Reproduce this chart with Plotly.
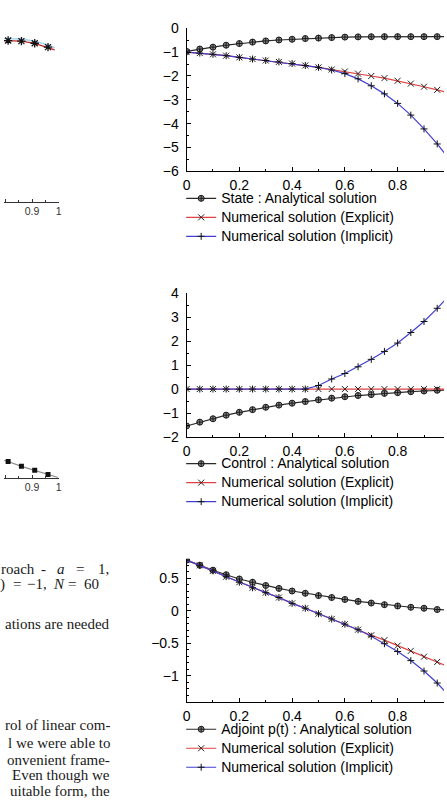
import plotly.graph_objects as go

# ---------------- data ----------------
t = [0.00, 0.05, 0.10, 0.15, 0.20, 0.25, 0.30, 0.35, 0.40, 0.45, 0.50,
     0.55, 0.60, 0.65, 0.70, 0.75, 0.80, 0.85, 0.90, 0.95, 1.00]

state_analytical = [-0.97, -0.87, -0.79, -0.71, -0.64, -0.58, -0.53, -0.49, -0.46, -0.43, -0.41,
                    -0.39, -0.37, -0.36, -0.355, -0.35, -0.35, -0.35, -0.35, -0.35, -0.35]
state_explicit = [-1.00, -1.04, -1.09, -1.15, -1.22, -1.29, -1.35, -1.41, -1.48, -1.56, -1.64,
                  -1.73, -1.81, -1.90, -2.00, -2.09, -2.20, -2.32, -2.45, -2.58, -2.72]
state_implicit = [-1.00, -1.04, -1.09, -1.15, -1.22, -1.29, -1.35, -1.41, -1.48, -1.56, -1.64,
                  -1.75, -1.90, -2.12, -2.41, -2.75, -3.15, -3.64, -4.22, -4.85, -5.55]

control_analytical = [-1.54, -1.38, -1.24, -1.09, -0.97, -0.86, -0.76, -0.67, -0.59, -0.52, -0.45,
                      -0.38, -0.32, -0.27, -0.23, -0.18, -0.15, -0.11, -0.08, -0.05, -0.03]
control_explicit = [0.0, 0.0, 0.0, 0.0, 0.0, 0.0, 0.0, 0.0, 0.0, 0.0, 0.0,
                    0.0, 0.0, 0.0, 0.0, 0.0, 0.0, 0.0, 0.0, 0.0, 0.0]
control_implicit = [0.0, 0.0, 0.0, 0.0, 0.0, 0.0, 0.0, 0.0, 0.0, 0.0, 0.15,
                    0.42, 0.65, 0.93, 1.24, 1.57, 1.92, 2.36, 2.82, 3.37, 3.95]

adjoint_analytical = [0.78, 0.70, 0.625, 0.555, 0.49, 0.44, 0.39, 0.345, 0.305, 0.27, 0.235,
                      0.205, 0.175, 0.145, 0.12, 0.095, 0.075, 0.055, 0.04, 0.02, 0.005]
adjoint_explicit = [0.78, 0.70, 0.615, 0.525, 0.44, 0.355, 0.28, 0.205, 0.115, 0.04, -0.045,
                    -0.125, -0.205, -0.29, -0.375, -0.45, -0.535, -0.615, -0.705, -0.785, -0.87]
adjoint_implicit = [0.78, 0.70, 0.615, 0.525, 0.44, 0.355, 0.28, 0.205, 0.115, 0.04, -0.045,
                    -0.125, -0.205, -0.29, -0.39, -0.505, -0.625, -0.765, -0.925, -1.11, -1.33]

legend_names_1 = ["State : Analytical solution", "Numerical solution (Explicit)", "Numerical solution (Implicit)"]
legend_names_2 = ["Control : Analytical solution", "Numerical solution (Explicit)", "Numerical solution (Implicit)"]
legend_names_3 = ["Adjoint p(t) : Analytical solution", "Numerical solution (Explicit)", "Numerical solution (Implicit)"]

# fragments of neighbouring figures (left edge of the page)
fragA_t_line = [0.79, 0.81, 0.86, 0.91, 0.96, 0.985]
fragA_red = [0.832, 0.832, 0.829, 0.818, 0.798, 0.784]
fragA_blue = [0.842, 0.842, 0.840, 0.829, 0.810, 0.795]
fragA_t_mark = [0.81, 0.86, 0.91, 0.96]
fragA_mark = [0.832, 0.829, 0.818, 0.798]

fragB_t_line = [0.79, 0.81, 0.86, 0.91, 0.96, 0.998]
fragB_line = [0.120, 0.111, 0.078, 0.051, 0.022, 0.002]
fragB_t_mark = [0.81, 0.86, 0.91, 0.96]
fragB_mark = [0.111, 0.078, 0.051, 0.022]

frag_ticks = [0.8, 0.9, 1.0]
frag_ticktext = ["0.8", "0.9", "1"]

# page text fragments: (text, x px, anchor, y px)
page_text = [
    ("roach", 34, "right", 572),
    ("-", 40, "center", 572),
    ("<i>a</i>", 58, "center", 572),
    ("=", 77, "center", 572),
    ("1,", 93, "left", 572),
    (")", 3.5, "right", 588),
    ("=", 13, "center", 588),
    ("\u22121,", 21, "left", 588),
    ("<i>N</i>", 55.5, "center", 588),
    ("=", 69.5, "center", 588),
    ("60", 99, "right", 588),
    ("ations are needed", 110, "right", 628),
    ("rol of linear com-", 110, "right", 732),
    ("l we were able to", 110, "right", 750),
    ("onvenient frame-", 110, "right", 767),
    ("Even though we", 110, "right", 783),
    ("uitable form, the", 110, "right", 799),
]

# ---------------- layout helpers ----------------
W, H = 447, 804
FONT = "Liberation Sans, Arial, Helvetica, sans-serif"
SERIF = "Liberation Serif, Times New Roman, serif"


def ydom(top, bottom):
    return [1 - bottom / H, 1 - top / H]


X0 = 185.5
PX_PER_UNIT = 268.0
xmax = (W - X0) / PX_PER_UNIT

fig = go.Figure()

styles = [
    dict(line=dict(color="#2a2a2a", width=1.2),
         marker=dict(symbol="circle-cross", size=6, color="#8c8c8c", line=dict(color="#1a1a1a", width=1))),
    dict(line=dict(color="#e04040", width=1.2),
         marker=dict(symbol="x-thin", size=6, color="#222222", line=dict(color="#222222", width=1))),
    dict(line=dict(color="#4040d0", width=1.2),
         marker=dict(symbol="cross-thin", size=5, color="#111111", line=dict(color="#111111", width=1))),
]

panels = [
    ("", "legend", legend_names_1, [state_analytical, state_explicit, state_implicit]),
    ("2", "legend2", legend_names_2, [control_analytical, control_explicit, control_implicit]),
    ("3", "legend3", legend_names_3, [adjoint_analytical, adjoint_explicit, adjoint_implicit]),
]

for suf, leg, names, series in panels:
    for name, ys, st in zip(names, series, styles):
        fig.add_trace(go.Scatter(
            x=t, y=ys, mode="lines+markers",
            name='<span style="font-size:14px">' + name + "</span>",
            line=st["line"], marker=st["marker"],
            xaxis="x" + suf, yaxis="y" + suf, legend=leg, showlegend=True,
            hoverinfo="skip"))

# fragments
fig.add_trace(go.Scatter(x=fragA_t_line, y=fragA_blue, mode="lines",
                         line=dict(color="#9fd3f0", width=1.3), xaxis="x4", yaxis="y4",
                         showlegend=False, hoverinfo="skip"))
fig.add_trace(go.Scatter(x=fragA_t_line, y=fragA_red, mode="lines",
                         line=dict(color="#c02828", width=1.3), xaxis="x4", yaxis="y4",
                         showlegend=False, hoverinfo="skip"))
fig.add_trace(go.Scatter(x=fragA_t_mark, y=fragA_mark, mode="markers",
                         marker=dict(symbol="asterisk-open", size=7, color="#111",
                                     line=dict(color="#111", width=1.3)),
                         xaxis="x4", yaxis="y4", showlegend=False, hoverinfo="skip"))
fig.add_trace(go.Scatter(x=fragB_t_line, y=fragB_line, mode="lines",
                         line=dict(color="#8a8a8a", width=1.2), xaxis="x5", yaxis="y5",
                         showlegend=False, hoverinfo="skip"))
fig.add_trace(go.Scatter(x=fragB_t_mark, y=fragB_mark, mode="markers",
                         marker=dict(symbol="square", size=5, color="#111"),
                         xaxis="x5", yaxis="y5", showlegend=False, hoverinfo="skip"))

tickfont = dict(family=FONT, size=14, color="black")
base = dict(showline=True, linecolor="black", linewidth=1, ticks="inside", ticklen=4,
            tickcolor="black", tickwidth=1, showgrid=False, zeroline=False, mirror=False,
            tickfont=tickfont)


def xax(anchor):
    d = dict(base)
    d.update(domain=[X0 / W, 1.0], range=[0, xmax], tick0=0, dtick=0.2, anchor=anchor,
             minor=dict(ticks="inside", ticklen=2, tickcolor="black", dtick=0.1),
             ticklabelstandoff=1)
    return d


def yax(anchor, dom, rng, dt, mdt):
    d = dict(base)
    d.update(domain=dom, range=rng, tick0=0, dtick=dt, anchor=anchor,
             minor=dict(ticks="inside", ticklen=2, tickcolor="black", dtick=mdt),
             ticklabelstandoff=4)
    return d


frag_x = dict(showline=True, linecolor="#333", linewidth=1, ticks="inside", ticklen=3,
              tickcolor="#333", showgrid=False, zeroline=False,
              tickmode="array", tickvals=frag_ticks, ticktext=frag_ticktext,
              tickfont=dict(family=FONT, size=10.5, color="#333"),
              minor=dict(ticks="inside", ticklen=2, tickcolor="#333", dtick=0.05, tick0=0),
              domain=[0, 55.5 / W], range=[1 - 55.5 / 270.0, 1.0])

fig.update_layout(
    width=W, height=H, autosize=False,
    margin=dict(l=0, r=0, t=0, b=0, pad=0),
    paper_bgcolor="white", plot_bgcolor="rgba(0,0,0,0)",
    font=dict(family=FONT, color="black"),
    xaxis=xax("y"),
    yaxis=yax("x", ydom(20.7, 166.7), [-6, 0], 1, 0.5),
    xaxis2=xax("y2"),
    yaxis2=yax("x2", ydom(291, 437.7), [-2, 4], 1, 0.5),
    xaxis3=xax("y3"),
    yaxis3=yax("x3", ydom(562, 708), [-1.4, 0.8], 0.5, 0.1),
    xaxis4=dict(frag_x, anchor="y4"),
    yaxis4=dict(visible=False, domain=ydom(0, 197.7), range=[0, 1], anchor="x4"),
    xaxis5=dict(frag_x, anchor="y5"),
    yaxis5=dict(visible=False, domain=ydom(330, 479.3), range=[0, 1], anchor="x5"),
    showlegend=True,
)

for key, top in (("legend", 179.4), ("legend2", 450.1), ("legend3", 721.1)):
    fig.update_layout({key: dict(x=180 / W, xanchor="left", y=1 - top / H, yanchor="top",
                                 font=dict(family=FONT, size=11.3, color="black"),
                                 bgcolor="rgba(0,0,0,0)", borderwidth=0, itemwidth=30,
                                 traceorder="normal", tracegroupgap=0)})

for txt, xp, anchor, yc in page_text:
    fig.add_annotation(text=txt, xref="paper", yref="paper", x=xp / W, y=1 - yc / H,
                       xanchor=anchor, yanchor="middle", showarrow=False,
                       font=dict(family=SERIF, size=15, color="#1a1a1a"))

fig.write_html("out.html")
